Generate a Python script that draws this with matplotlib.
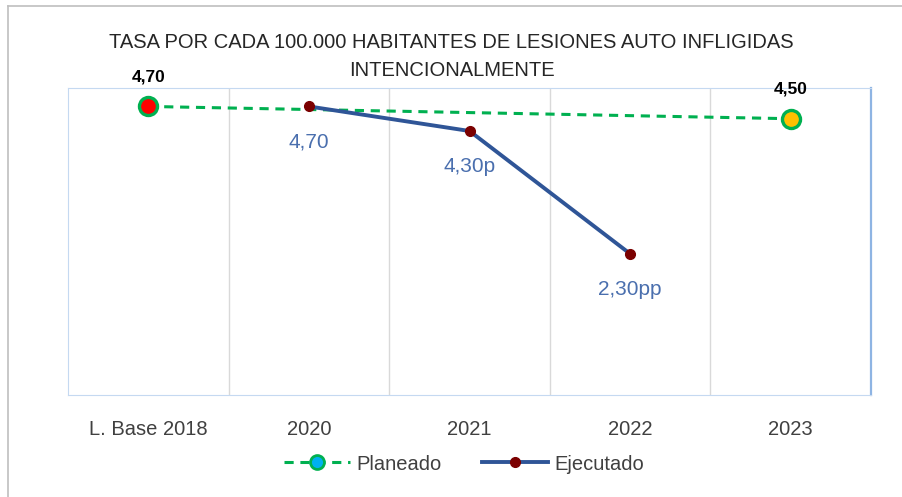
import matplotlib.pyplot as plt
from matplotlib.lines import Line2D

plt.rcParams['font.family'] = ['Liberation Sans', 'DejaVu Sans']

categories = ['L. Base 2018', '2020', '2021', '2022', '2023']

# planned values exist only at the base line and the target year
planned_idx = [0, 4]
planned_vals = [4.70, 4.50]
planned_labels = ['4,70', '4,50']
planned_colors = ['#FF0000', '#FFC000']

executed_idx = [1, 2, 3]
executed_vals = [4.70, 4.30, 2.30]
executed_labels = ['4,70', '4,30p', '2,30pp']

fig = plt.figure(figsize=(9.03, 4.97), dpi=100)
ax = fig.add_axes([0.0753, 0.2052, 0.8893, 0.6177])

# outer frame lines (top and left only visible)
fig.add_artist(Line2D([8 / 903, 8 / 903], [0, 1 - 6 / 497], color='#BFBFBF', lw=1.2))
fig.add_artist(Line2D([8 / 903, 1], [1 - 6 / 497, 1 - 6 / 497], color='#BFBFBF', lw=1.2))

ax.set_xlim(-0.5, 4.5)
ax.set_ylim(0, 5)

for g in [0.5, 1.5, 2.5, 3.5]:
    ax.axvline(g, color='#D9D9D9', lw=1, zorder=0)

ax.plot(planned_idx, planned_vals, color='#00B050', lw=2.2, ls=(0, (3, 2.2)), zorder=2)
for i, v, c in zip(planned_idx, planned_vals, planned_colors):
    ax.plot(i, v, marker='o', ms=13, mfc=c, mec='#00B050', mew=2.4, ls='none', zorder=4)

ax.plot(executed_idx, executed_vals, color='#2F5597', lw=2.8, marker='o', ms=7,
        mfc='#7B0000', mec='#7B0000', zorder=3)

for i, v, t in zip(planned_idx, planned_vals, planned_labels):
    ax.annotate(t, (i, v), xytext=(0, 16), textcoords='offset points', ha='center',
                va='bottom', fontsize=12.5, fontweight='bold', color='#000000')

for i, v, t in zip(executed_idx, executed_vals, executed_labels):
    ax.annotate(t, (i, v), xytext=(0, -19), textcoords='offset points', ha='center',
                va='top', fontsize=15, color='#4A6FAE')

ax.set_xticks(range(len(categories)))
ax.set_xticklabels(categories, fontsize=14.5, color='#404040')
ax.tick_params(axis='x', length=0, pad=18)
ax.set_yticks([])

for s in ['top', 'left', 'bottom']:
    ax.spines[s].set_color('#C5D9F1')
ax.spines['right'].set_color('#8EB4E3')
ax.spines['right'].set_linewidth(1.6)

fig.text(0.5, 1 - 42 / 497, 'TASA POR CADA 100.000 HABITANTES DE LESIONES AUTO INFLIGIDAS',
         ha='center', va='center', fontsize=14.5, color='#262626')
fig.text(0.5, 1 - 71 / 497, 'INTENCIONALMENTE', ha='center', va='center',
         fontsize=14.5, color='#262626')

h1 = Line2D([], [], color='#00B050', lw=2.2, ls=(0, (3, 2.2)), marker='o', ms=10,
            mfc='#00B0F0', mec='#00B050', mew=2)
h2 = Line2D([], [], color='#2F5597', lw=2.8, marker='o', ms=7, mfc='#7B0000', mec='#7B0000')
fig.legend([h1, h2], ['Planeado', 'Ejecutado'], loc='center', bbox_to_anchor=(0.514, 1 - 464 / 497),
           ncol=2, frameon=False, fontsize=14.5, handlelength=3.3, columnspacing=2.0,
           handletextpad=0.3, labelcolor='#404040')

fig.savefig('out.png', dpi=100)
